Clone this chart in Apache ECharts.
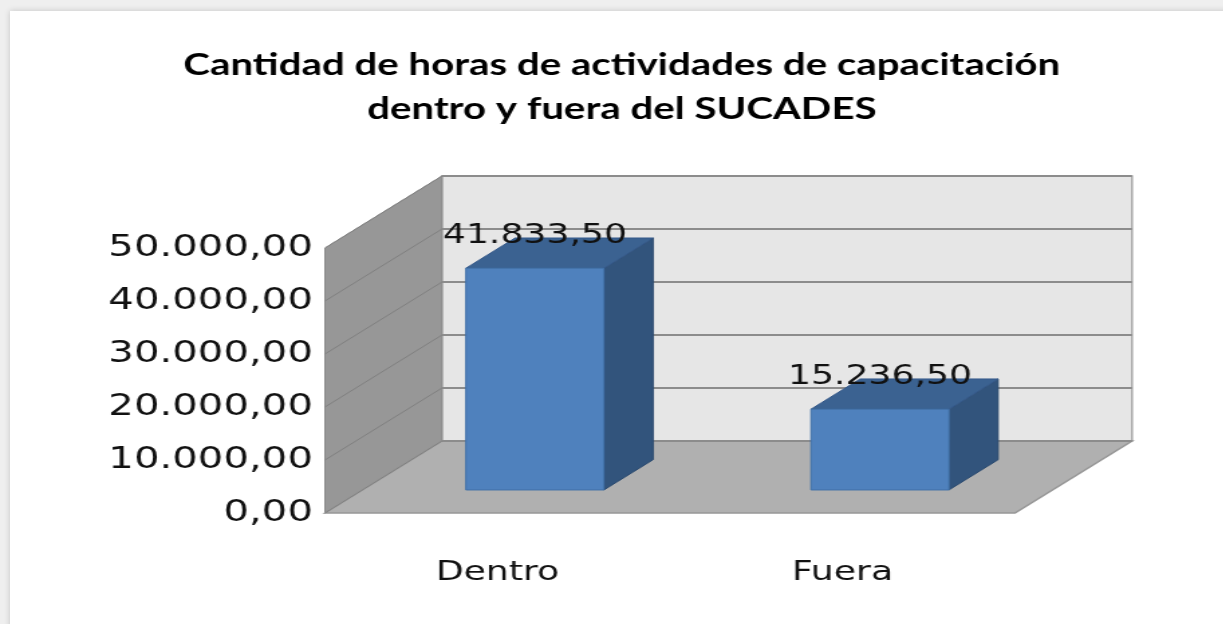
<!DOCTYPE html>
<html>
<head>
<meta charset="utf-8">
<script src="https://cdn.jsdelivr.net/npm/echarts@6/dist/echarts.min.js"></script>
<style>
  html, body { margin: 0; padding: 0; background: #efefef; overflow: hidden; }
  #frame { position: absolute; left: 10px; top: 11px; width: 1230px; height: 640px; background: #fff; box-shadow: 0 0 6px rgba(0,0,0,0.18); }
  #main { position: absolute; left: 0; top: 0; width: 913px; height: 624px; transform: scaleX(1.34); transform-origin: 0 0; }
</style>
</head>
<body>
<div id="frame"></div>
<div id="main"></div>
<script>
const categories = ['Dentro', 'Fuera'];
const horas = [41833.5, 15236.5];
const yTicks = [0, 10000, 20000, 30000, 40000, 50000];

// depth of the 3d box (unscaled px), bar front/back position inside it
const DX = 87.3, DY = -72;
const F1 = 0.32, F2 = 0.74;

function fmt(v) {
  const parts = v.toFixed(2).split('.');
  return parts[0].replace(/\B(?=(\d{3})+(?!\d))/g, '.') + ',' + parts[1];
}

function renderWalls(params, api) {
  const cs = params.coordSys;
  const x0 = cs.x, x1 = cs.x + cs.width;
  const yTop = api.coord([0, yTicks[yTicks.length - 1]])[1];
  const y0 = api.coord([0, 0])[1];
  const y = api.coord([0, api.value(1)])[1];
  const children = [];
  if (params.dataIndex === 0) {
    children.push({
      type: 'polygon',
      shape: { points: [[x0 + DX, yTop + DY], [x1 + DX, yTop + DY], [x1 + DX, y0 + DY], [x0 + DX, y0 + DY]] },
      style: { fill: '#e6e6e6', stroke: '#a8a8a8', lineWidth: 1.5 }
    });
    children.push({
      type: 'polygon',
      shape: { points: [[x0, yTop], [x0 + DX, yTop + DY], [x0 + DX, y0 + DY], [x0, y0]] },
      style: { fill: '#979797', stroke: '#8a8a8a', lineWidth: 1 }
    });
    children.push({
      type: 'polygon',
      shape: { points: [[x0, y0], [x0 + DX, y0 + DY], [x1 + DX, y0 + DY], [x1, y0]] },
      style: { fill: '#b0b0b0', stroke: '#969696', lineWidth: 1.5 }
    });
  }
  children.push({
    type: 'line',
    shape: { x1: x0, y1: y, x2: x0 + DX, y2: y + DY },
    style: { stroke: '#808080', lineWidth: 1 }
  });
  children.push({
    type: 'line',
    shape: { x1: x0 + DX, y1: y + DY, x2: x1 + DX, y2: y + DY },
    style: { stroke: '#8c8c8c', lineWidth: 2 }
  });
  return { type: 'group', children: children };
}

function renderBar(params, api) {
  const cat = api.value(0);
  const val = api.value(1);
  const base = api.coord([cat, 0]);
  const top = api.coord([cat, val]);
  const bw = api.size([1, 0])[0] * 0.4;
  const fx = F1 * DX, fy = F1 * DY;
  const dx = (F2 - F1) * DX, dy = (F2 - F1) * DY;
  const l = base[0] - bw / 2 + fx, r = base[0] + bw / 2 + fx;
  const t = top[1] + fy, b = base[1] + fy;
  return {
    type: 'group',
    children: [
      {
        type: 'polygon',
        shape: { points: [[r, t], [r + dx, t + dy], [r + dx, b + dy], [r, b]] },
        style: { fill: '#32547c', stroke: '#2c4b70', lineWidth: 1 }
      },
      {
        type: 'polygon',
        shape: { points: [[l, t], [l + dx, t + dy], [r + dx, t + dy], [r, t]] },
        style: { fill: '#3b6291', stroke: '#35598a', lineWidth: 1 }
      },
      {
        type: 'rect',
        shape: { x: l, y: t, width: r - l, height: b - t },
        style: { fill: '#4f81bd', stroke: '#4171a8', lineWidth: 1 }
      },
      {
        type: 'text',
        style: {
          x: (l + r) / 2, y: t - 32,
          text: fmt(val),
          align: 'center', verticalAlign: 'middle',
          font: '27px "DejaVu Sans"', fill: '#111'
        }
      }
    ]
  };
}

const div = document.getElementById('main');
const myChart = echarts.init(div, undefined, { width: 913, height: 624 });

const option = {
  animation: false,
  title: {
    text: 'Cantidad de horas de actividades de capacitación\ndentro y fuera del SUCADES',
    left: 459,
    top: 38,
    textAlign: 'center',
    textStyle: {
      fontFamily: 'Lato',
      fontWeight: 'bold',
      fontSize: 30,
      lineHeight: 44,
      color: '#000'
    }
  },
  grid: {
    left: 242.5,
    right: 155.5,
    top: 248,
    bottom: 111
  },
  xAxis: {
    type: 'category',
    data: categories,
    axisLine: { show: false },
    axisTick: { show: false },
    axisLabel: {
      margin: 46,
      fontFamily: 'DejaVu Sans',
      fontSize: 27,
      color: '#111'
    }
  },
  yAxis: {
    type: 'value',
    min: 0,
    max: 50000,
    interval: 10000,
    splitLine: { show: false },
    axisLine: { show: false },
    axisTick: { show: false },
    axisLabel: {
      margin: 9,
      fontFamily: 'DejaVu Sans',
      fontSize: 30,
      color: '#111',
      formatter: fmt
    }
  },
  series: [
    {
      type: 'custom',
      renderItem: renderWalls,
      data: yTicks.map(function (t) { return [0, t]; }),
      silent: true,
      z: 1
    },
    {
      type: 'custom',
      renderItem: renderBar,
      data: horas.map(function (h, i) { return [i, h]; }),
      encode: { x: 0, y: 1 },
      z: 2
    }
  ]
};

myChart.setOption(option);
</script>
</body>
</html>
